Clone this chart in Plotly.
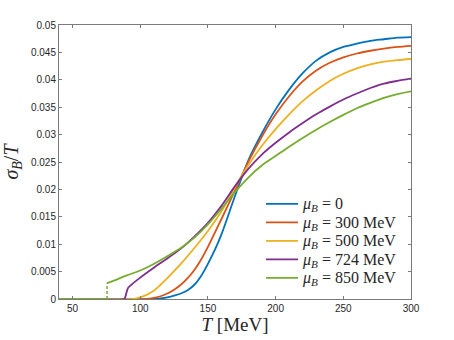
import plotly.graph_objects as go

# ---- data ----
T_mu0 = [40, 110, 115, 120, 125, 130, 135, 140, 145, 150, 155, 160, 170, 180, 190, 200, 210, 220, 230, 240, 250, 260, 270, 280, 290, 300]
s_mu0 = [0, 0, 0.0001, 0.0003, 0.0006, 0.0010, 0.0016, 0.0026, 0.0042, 0.0064, 0.0089, 0.0118, 0.0188, 0.0254, 0.0303, 0.0346, 0.0382, 0.0412, 0.0435, 0.0450, 0.0460, 0.0466, 0.0471, 0.0474, 0.0477, 0.0478]

T_mu300 = [40, 105, 110, 115, 120, 125, 130, 135, 140, 145, 150, 160, 170, 180, 190, 200, 210, 220, 230, 240, 250, 260, 270, 280, 290, 300]
s_mu300 = [0, 0, 0.0002, 0.0005, 0.0010, 0.0017, 0.0026, 0.0038, 0.0053, 0.0072, 0.0095, 0.0146, 0.0198, 0.0251, 0.0297, 0.0337, 0.0370, 0.0397, 0.0417, 0.0431, 0.0441, 0.0448, 0.0453, 0.0457, 0.0460, 0.0462]

T_mu500 = [40, 95, 100, 105, 110, 115, 120, 130, 140, 150, 160, 170, 180, 190, 200, 210, 220, 230, 240, 250, 260, 270, 280, 290, 300]
s_mu500 = [0, 0, 0.0003, 0.0008, 0.0015, 0.0026, 0.0038, 0.0064, 0.0093, 0.0124, 0.0160, 0.0204, 0.0245, 0.0280, 0.0310, 0.0337, 0.0361, 0.0381, 0.0398, 0.0411, 0.0421, 0.0428, 0.0433, 0.0436, 0.0438]

T_mu724 = [40, 88, 89, 90, 91, 93, 100, 110, 120, 130, 140, 150, 160, 170, 180, 190, 200, 210, 220, 230, 240, 250, 260, 270, 280, 290, 300]
s_mu724 = [0, 0, 0.0004, 0.0013, 0.0020, 0.0025, 0.0039, 0.0057, 0.0074, 0.0092, 0.0114, 0.0139, 0.0170, 0.0206, 0.0238, 0.0264, 0.0285, 0.0304, 0.0321, 0.0337, 0.0351, 0.0364, 0.0375, 0.0385, 0.0393, 0.0398, 0.0402]

T_mu850_low = [40, 75.5]
s_mu850_low = [0, 0]
T_mu850_jump = [75.5, 75.5]
s_mu850_jump = [0, 0.0029]
T_mu850 = [75.5, 80, 90, 100, 110, 120, 130, 140, 150, 160, 170, 180, 190, 200, 210, 220, 230, 240, 250, 260, 270, 280, 290, 300]
s_mu850 = [0.0029, 0.0033, 0.0043, 0.0052, 0.0064, 0.0078, 0.0093, 0.0112, 0.0136, 0.0165, 0.0195, 0.0222, 0.0244, 0.0261, 0.0278, 0.0294, 0.0309, 0.0323, 0.0336, 0.0348, 0.0358, 0.0367, 0.0374, 0.0379]

legend_names = ["<i>μ</i><sub><i>B</i></sub> = 0",
                "<i>μ</i><sub><i>B</i></sub> = 300 MeV",
                "<i>μ</i><sub><i>B</i></sub> = 500 MeV",
                "<i>μ</i><sub><i>B</i></sub> = 724 MeV",
                "<i>μ</i><sub><i>B</i></sub> = 850 MeV"]
colors = ["#0072BD", "#D95319", "#EDB120", "#7E2F8E", "#77AC30"]

x_tickvals = [50, 100, 150, 200, 250, 300]
x_ticktext = ["50", "100", "150", "200", "250", "300"]
y_tickvals = [0, 0.005, 0.01, 0.015, 0.02, 0.025, 0.03, 0.035, 0.04, 0.045, 0.05]
y_ticktext = ["0", "0.005", "0.01", "0.015", "0.02", "0.025", "0.03", "0.035", "0.04", "0.045", "0.05"]

LW = 1.8
fig = go.Figure()
series = [(T_mu0, s_mu0), (T_mu300, s_mu300), (T_mu500, s_mu500), (T_mu724, s_mu724)]
for (tx, sy), name, c in zip(series, legend_names[:4], colors[:4]):
    fig.add_trace(go.Scatter(x=tx, y=sy, mode="lines", name=name, showlegend=False,
                             line=dict(color=c, width=LW, shape="spline", smoothing=0.8)))
fig.add_trace(go.Scatter(x=T_mu850_low, y=s_mu850_low, mode="lines", showlegend=False,
                         line=dict(color=colors[4], width=LW)))
fig.add_trace(go.Scatter(x=T_mu850_jump, y=s_mu850_jump, mode="lines", showlegend=False,
                         line=dict(color=colors[4], width=1.5, dash="3px,2px")))
fig.add_trace(go.Scatter(x=T_mu850, y=s_mu850, mode="lines", name=legend_names[4], showlegend=False,
                         line=dict(color=colors[4], width=LW, shape="spline", smoothing=0.8)))

# legend drawn MATLAB-style (no box, tight rows) in paper coordinates
leg_x0, leg_x1, leg_text_x = 0.588, 0.679, 0.684
leg_top, leg_step = 0.347, 0.0675
for i, (name, c) in enumerate(zip(legend_names, colors)):
    yy = leg_top - i * leg_step
    fig.add_shape(type="line", xref="paper", yref="paper", x0=leg_x0, x1=leg_x1, y0=yy, y1=yy,
                  line=dict(color=c, width=LW))
    fig.add_annotation(xref="paper", yref="paper", x=leg_text_x, y=yy, text=name, showarrow=False,
                       xanchor="left", yanchor="middle", yshift=-1,
                       font=dict(family="Liberation Serif, serif", size=16, color="#262626"))

axis_common = dict(showline=True, linecolor="#7a7a7a", linewidth=1, mirror="ticks",
                   ticks="inside", ticklen=3, tickcolor="#7a7a7a", showgrid=False, zeroline=False,
                   automargin=False,
                   tickfont=dict(family="Liberation Sans, Arial, sans-serif", size=10, color="#262626"))

fig.update_layout(
    width=454, height=340,
    margin=dict(l=59, r=43, t=25, b=41),
    paper_bgcolor="white", plot_bgcolor="white",
    xaxis=dict(range=[40, 300], tickvals=x_tickvals, ticktext=x_ticktext,
               title=dict(text="<i>T</i> [MeV]", standoff=2,
                          font=dict(family="Liberation Serif, serif", size=19, color="#262626")),
               **axis_common),
    yaxis=dict(range=[0, 0.05], tickvals=y_tickvals, ticktext=y_ticktext,
               title=dict(text="<i>σ</i><sub><i>B</i></sub>/<i>T</i>", standoff=8,
                          font=dict(family="Liberation Serif, serif", size=20, color="#262626")),
               **axis_common),
    showlegend=False,
)

fig.write_html("out.html", config={"displayModeBar": False},
               post_script="document.body.style.margin='0';")
